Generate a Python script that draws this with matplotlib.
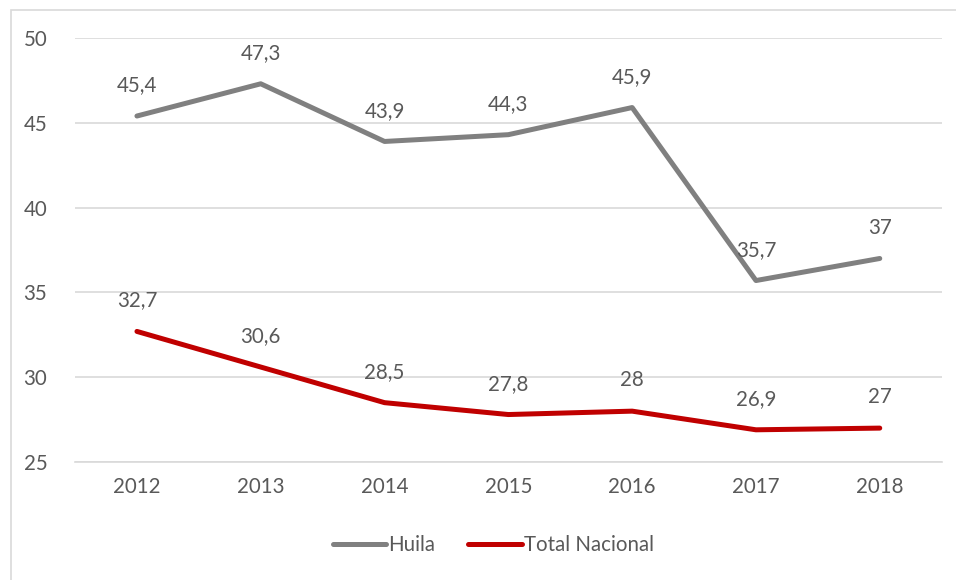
import matplotlib.pyplot as plt
from matplotlib.patches import Rectangle

years = ['2012', '2013', '2014', '2015', '2016', '2017', '2018']
huila = [45.4, 47.3, 43.9, 44.3, 45.9, 35.7, 37.0]
nacional = [32.7, 30.6, 28.5, 27.8, 28.0, 26.9, 27.0]
huila_labels = ['45,4', '47,3', '43,9', '44,3', '45,9', '35,7', '37']
nacional_labels = ['32,7', '30,6', '28,5', '27,8', '28', '26,9', '27']

plt.rcParams['font.family'] = ['Lato', 'DejaVu Sans']
txt = '#595959'
fs = 14.8

fig = plt.figure(figsize=(9.56, 5.8), dpi=100)
ax = fig.add_axes([0.0785, 0.2034, 0.9065, 0.7311])

x = range(len(years))
ax.plot(x, huila, color='#808080', lw=3.6, solid_capstyle='round', label='Huila')
ax.plot(x, nacional, color='#C00000', lw=3.6, solid_capstyle='round', label='Total Nacional')

for i in x:
    ax.annotate(huila_labels[i], (i, huila[i]), xytext=(0, 15), textcoords='offset points',
                ha='center', va='bottom', fontsize=fs, color=txt)
    ax.annotate(nacional_labels[i], (i, nacional[i]), xytext=(0, 15), textcoords='offset points',
                ha='center', va='bottom', fontsize=fs, color=txt)

ax.set_xlim(-0.5, 6.5)
ax.set_ylim(25, 50)
ax.set_yticks([25, 30, 35, 40, 45, 50])
ax.set_xticks(list(x))
ax.set_xticklabels(years)
ax.grid(axis='y', color='#D9D9D9', lw=1.2)
ax.set_axisbelow(True)
for s in ['top', 'right', 'left']:
    ax.spines[s].set_visible(False)
ax.spines['bottom'].set_color('#D9D9D9')
ax.spines['bottom'].set_linewidth(1.2)
ax.tick_params(length=0, labelsize=fs, labelcolor=txt)
ax.tick_params(axis='y', pad=20)
ax.tick_params(axis='x', pad=11)

leg = fig.legend(loc='center', bbox_to_anchor=(0.516, 0.06), ncol=2, frameon=False,
                 fontsize=fs, handlelength=2.6, handletextpad=0.1, columnspacing=1.6)
for t in leg.get_texts():
    t.set_color(txt)

fig.patches.append(Rectangle((11 / 956, -0.1), 1.2, 1 - 10 / 580 + 0.1, transform=fig.transFigure,
                             fill=False, edgecolor='#D9D9D9', lw=1.2))

fig.savefig('out.png', dpi=100)
